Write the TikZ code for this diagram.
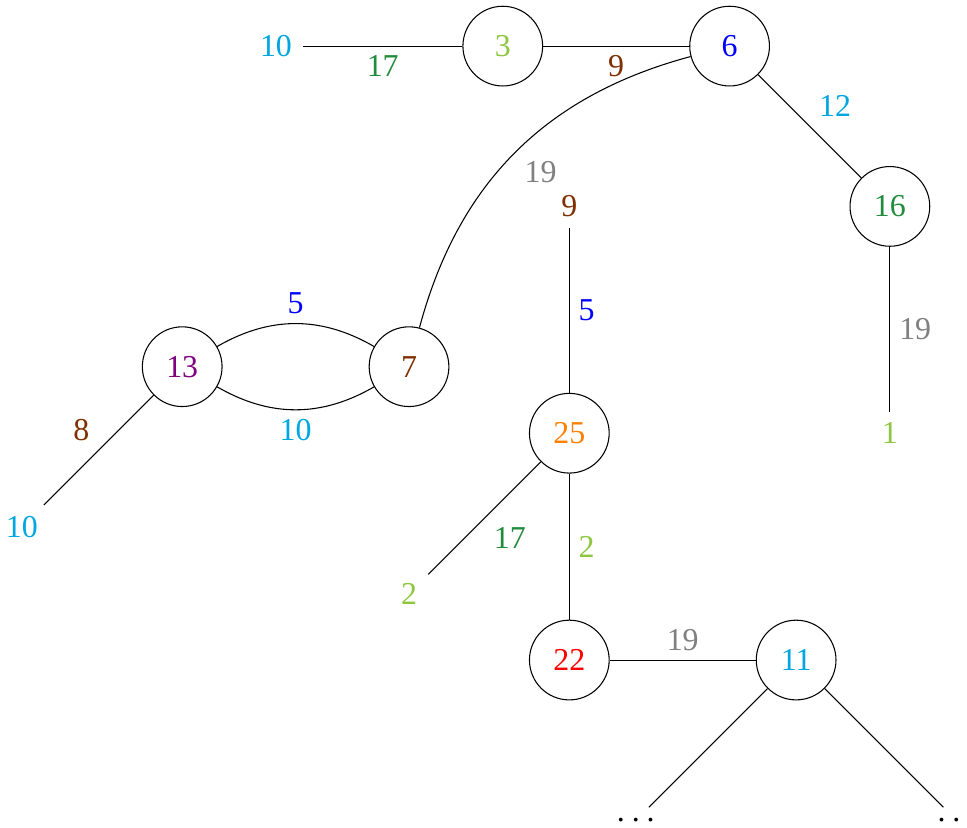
\documentclass[tikz,border=0pt]{standalone}
\usepackage{fontspec}
\setmainfont{Liberation Serif}
\usepackage{xcolor}
\usepackage{tikz}
\usetikzlibrary{positioning}

\definecolor{wcyan}{RGB}{0,166,226}
\definecolor{wgreen}{RGB}{34,139,60}
\definecolor{wlime}{RGB}{141,198,63}
\definecolor{wbrown}{RGB}{128,48,0}
\definecolor{wpurple}{RGB}{128,0,128}
\definecolor{worange}{RGB}{255,128,0}
\definecolor{wgray}{RGB}{128,128,128}
\newcommand{\wdots}{.\kern2.6pt.\kern2.6pt.}

\begin{document}
\begin{tikzpicture}[node distance=3cm, on grid, every node/.style={font=\fontsize{12}{14}\selectfont},
  vertex/.style={circle, draw, minimum size=30pt, inner sep=1pt},
  leaf/.style={inner sep=4pt}]
  \useasboundingbox (-6.65,0.61) rectangle (6.14,-10.34);
  % top row
  \node[vertex, text=wlime] (n3) {3};
  \node[leaf, text=wcyan] (l10a) [left=of n3] {10};
  \node[vertex, text=blue] (n6) [right=of n3] {6};
  \node[vertex, text=wgreen] (n16) [below right=2.12cm and 2.12cm of n6] {16};
  \node[leaf, text=wlime] (l1) [below=of n16] {1};
  % middle
  \node[leaf, text=wbrown] (l9) [below left=2.12cm and 2.12cm of n6] {9};
  \node[vertex, text=worange] (n25) [below=of l9] {25};
  \node[leaf, text=wlime] (l2) [below left=2.12cm and 2.12cm of n25] {2};
  \node[vertex, text=red] (n22) [below=of n25] {22};
  \node[vertex, text=wcyan] (n11) [right=of n22] {11};
  \node[leaf] (dl) [below left=2.12cm and 2.12cm of n11] {\wdots};
  \node[leaf] (dr) [below right=2.12cm and 2.12cm of n11] {\wdots};
  % left
  \node[vertex, text=wbrown] (n7) [below left=4.24cm and 4.24cm of n6] {7};
  \node[vertex, text=wpurple] (n13) [left=of n7] {13};
  \node[leaf, text=wcyan] (l10b) [below left=2.12cm and 2.12cm of n13] {10};

  \draw (l10a) -- node[below, text=wgreen] {17} (n3);
  \draw (n3) -- node[below, text=wbrown] {9} (n6);
  \draw (n6) -- node[above right, text=wcyan] {12} (n16);
  \draw (n16) -- node[right, text=wgray] {19} (l1);
  \draw (n6) to[bend right=30] node[below right, text=wgray] {19} (n7);
  \draw (n13) to[bend left=30] node[above, text=blue] {5} (n7);
  \draw (n13) to[bend right=30] node[below, text=wcyan] {10} (n7);
  \draw (n13) -- node[above left, text=wbrown] {8} (l10b);
  \draw (l9) -- node[right, text=blue] {5} (n25);
  \draw (n25) -- node[below right, text=wgreen] {17} (l2);
  \draw (n25) -- node[right, text=wlime] {2} (n22);
  \draw (n22) -- node[above, text=wgray] {19} (n11);
  \draw (n11) -- (dl);
  \draw (n11) -- (dr);
\end{tikzpicture}
\end{document}
